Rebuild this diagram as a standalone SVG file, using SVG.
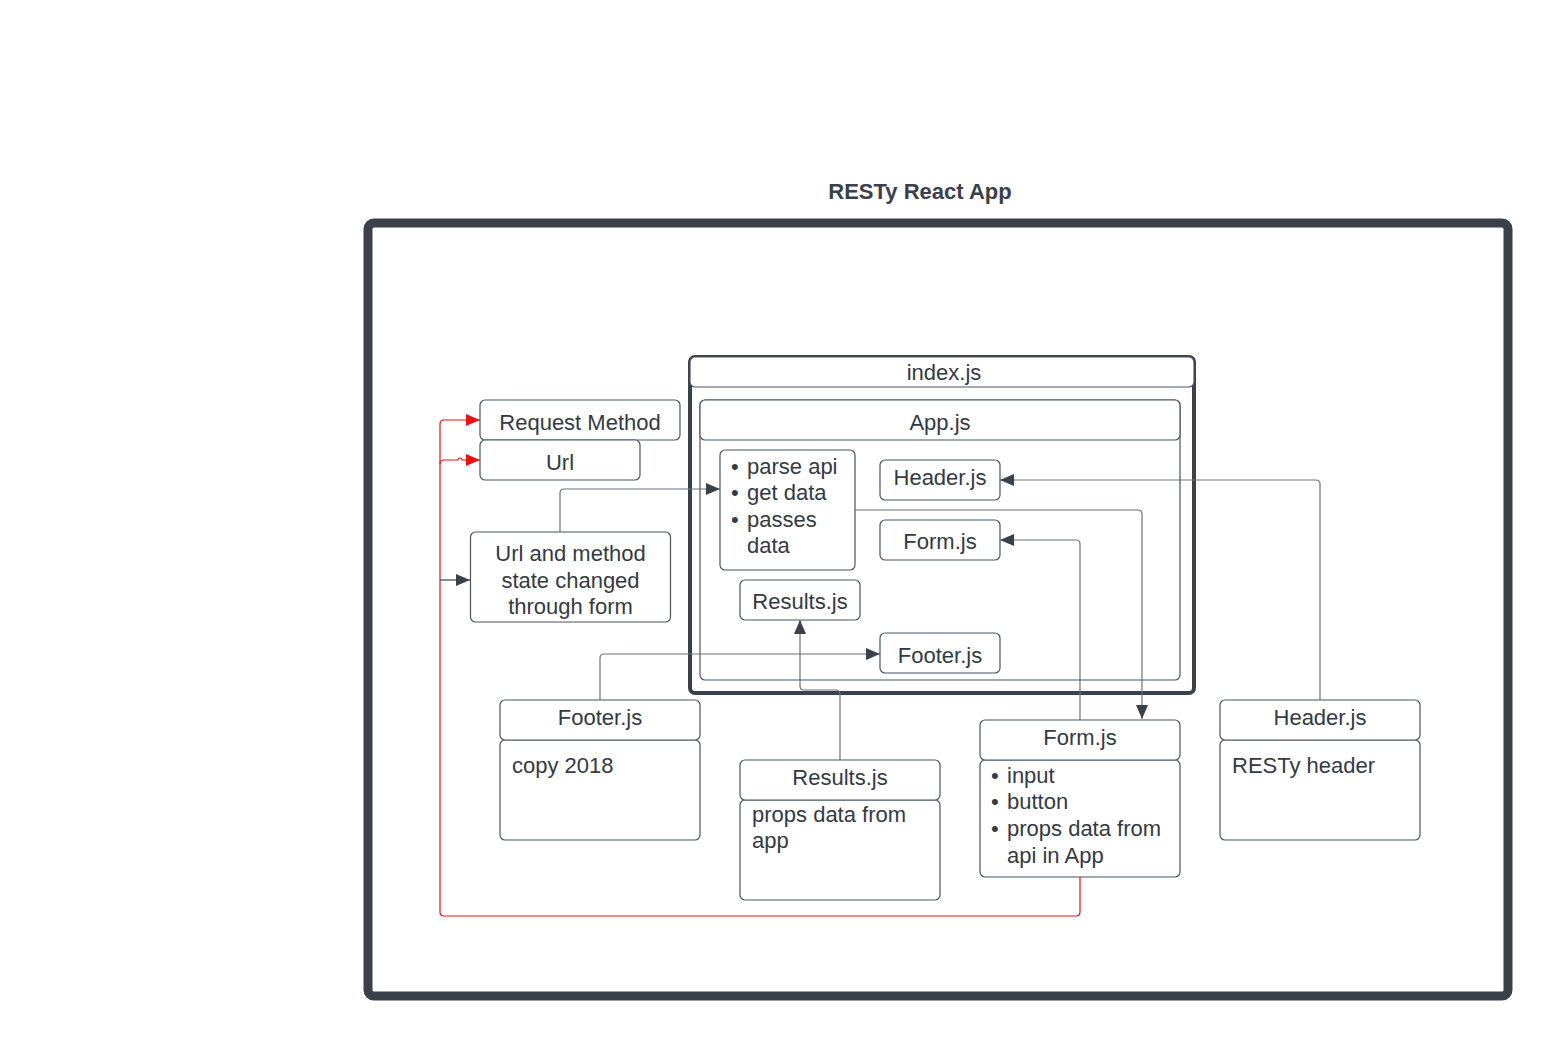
<svg xmlns="http://www.w3.org/2000/svg" width="1549" height="1037" viewBox="0 0 1549 1037">
<defs>
<style>
.t{font-family:"Liberation Sans",Arial,sans-serif;font-size:22px;fill:#333a45}
.c{text-anchor:middle}
.b{fill:#fff;stroke:#4b5260;stroke-width:1.2}
.ln{fill:none;stroke:#6b7079;stroke-width:1.2}
.rd{fill:none;stroke:#e81313;stroke-width:1.2}
</style>
<marker id="ah" markerUnits="userSpaceOnUse" markerWidth="14" markerHeight="12" refX="14" refY="6" orient="auto"><path d="M0,0 L14,6 L0,12 z" fill="#3a414a"/></marker>
<marker id="ar" markerUnits="userSpaceOnUse" markerWidth="14" markerHeight="12" refX="14" refY="6" orient="auto"><path d="M0,0 L14,6 L0,12 z" fill="#e81313"/></marker>
</defs>
<rect width="1549" height="1037" fill="#fff"/>
<text x="920" y="199" class="t c" style="font-weight:bold;fill:#3a414a">RESTy React App</text>
<g id="frame"><rect x="368" y="223" width="1140" height="773" rx="6" fill="none" stroke="#3a414a" stroke-width="9"/></g>

<g id="index">
<rect x="690" y="357" width="504" height="336" rx="5" fill="none" stroke="#3a414a" stroke-width="4"/>
<rect x="690" y="357" width="504" height="30" rx="5" class="b"/>
<text x="944" y="380" class="t c">index.js</text>
</g>
<g id="app">
<rect x="700" y="400" width="480" height="280" rx="5" class="b" style="fill:none"/>
<rect x="700" y="400" width="480" height="40" rx="5" class="b"/>
<text x="940" y="430" class="t c">App.js</text>
</g>
<g id="appbullets">
<rect x="720" y="450" width="135" height="120" rx="5" class="b"/>
<text class="t"><tspan x="731" y="474">•</tspan><tspan x="747" y="474">parse api</tspan><tspan x="731" y="500">•</tspan><tspan x="747" y="500">get data</tspan><tspan x="731" y="527">•</tspan><tspan x="747" y="527">passes</tspan><tspan x="747" y="553">data</tspan></text>
</g>
<g id="headerInner"><rect x="880" y="460" width="120" height="40" rx="5" class="b"/><text x="940" y="485" class="t c">Header.js</text></g>
<g id="formInner"><rect x="880" y="520" width="120" height="40" rx="5" class="b"/><text x="940" y="549" class="t c">Form.js</text></g>
<g id="resultsInner"><rect x="740" y="580" width="120" height="40" rx="5" class="b"/><text x="800" y="609" class="t c">Results.js</text></g>
<g id="footerInner"><rect x="880" y="633" width="120" height="40" rx="5" class="b"/><text x="940" y="663" class="t c">Footer.js</text></g>

<g id="requestMethod"><rect x="480" y="400" width="200" height="40" rx="5" class="b"/><text x="580" y="430" class="t c">Request Method</text></g>
<g id="url"><rect x="480" y="440" width="160" height="40" rx="5" class="b"/><text x="560" y="470" class="t c">Url</text></g>
<g id="urlMethod"><rect x="470.5" y="532" width="200" height="90" rx="5" class="b"/>
<text class="t c"><tspan x="570.5" y="561">Url and method</tspan><tspan x="570.5" y="588">state changed</tspan><tspan x="570.5" y="614">through form</tspan></text></g>

<g id="footerOuter"><rect x="500" y="740" width="200" height="100" rx="5" class="b"/><rect x="500" y="700" width="200" height="40" rx="5" class="b"/>
<text x="600" y="725" class="t c">Footer.js</text><text x="512" y="773" class="t">copy 2018</text></g>
<g id="resultsOuter"><rect x="740" y="800" width="200" height="100" rx="5" class="b"/><rect x="740" y="760" width="200" height="40" rx="5" class="b"/>
<text x="840" y="785" class="t c">Results.js</text><text class="t"><tspan x="752" y="822">props data from</tspan><tspan x="752" y="848">app</tspan></text></g>
<g id="formOuter"><rect x="980" y="760" width="200" height="117" rx="5" class="b"/><rect x="980" y="720" width="200" height="40" rx="5" class="b"/>
<text x="1080" y="745" class="t c">Form.js</text>
<text class="t"><tspan x="991" y="783">•</tspan><tspan x="1007" y="783">input</tspan><tspan x="991" y="809">•</tspan><tspan x="1007" y="809">button</tspan><tspan x="991" y="836">•</tspan><tspan x="1007" y="836">props data from</tspan><tspan x="1007" y="863">api in App</tspan></text></g>
<g id="headerOuter"><rect x="1220" y="740" width="200" height="100" rx="5" class="b"/><rect x="1220" y="700" width="200" height="40" rx="5" class="b"/>
<text x="1320" y="725" class="t c">Header.js</text><text x="1232" y="773" class="t">RESTy header</text></g>

<g id="connectors">
<path class="ln" d="M560,532 V493 Q560,489 564,489 H720" marker-end="url(#ah)"/>
<path class="ln" d="M855,510 H1138 Q1142,510 1142,514 V719" marker-end="url(#ah)"/>
<path class="ln" d="M1080,720 V544 Q1080,540 1076,540 H1000" marker-end="url(#ah)"/>
<path class="ln" d="M1320,700 V484 Q1320,480 1316,480 H1000" marker-end="url(#ah)"/>
<path class="ln" d="M600,700 V658 Q600,654 604,654 H880" marker-end="url(#ah)"/>
<path class="ln" d="M840,760 V694 Q840,690 836,690 H804 Q800,690 800,686 V620" marker-end="url(#ah)"/>
<path class="rd" d="M1080,877 V912 Q1080,916 1076,916 H444 Q440,916 440,912 V424 Q440,420 444,420 H480" marker-end="url(#ar)"/>
<path class="rd" d="M440,464 Q440,460 444,460 H458 A2,2 0 0 1 462,460 H480" marker-end="url(#ar)"/>
<path class="ln" d="M440,580 H470" style="stroke:#3a414a" marker-end="url(#ah)"/>
</g>
</svg>
